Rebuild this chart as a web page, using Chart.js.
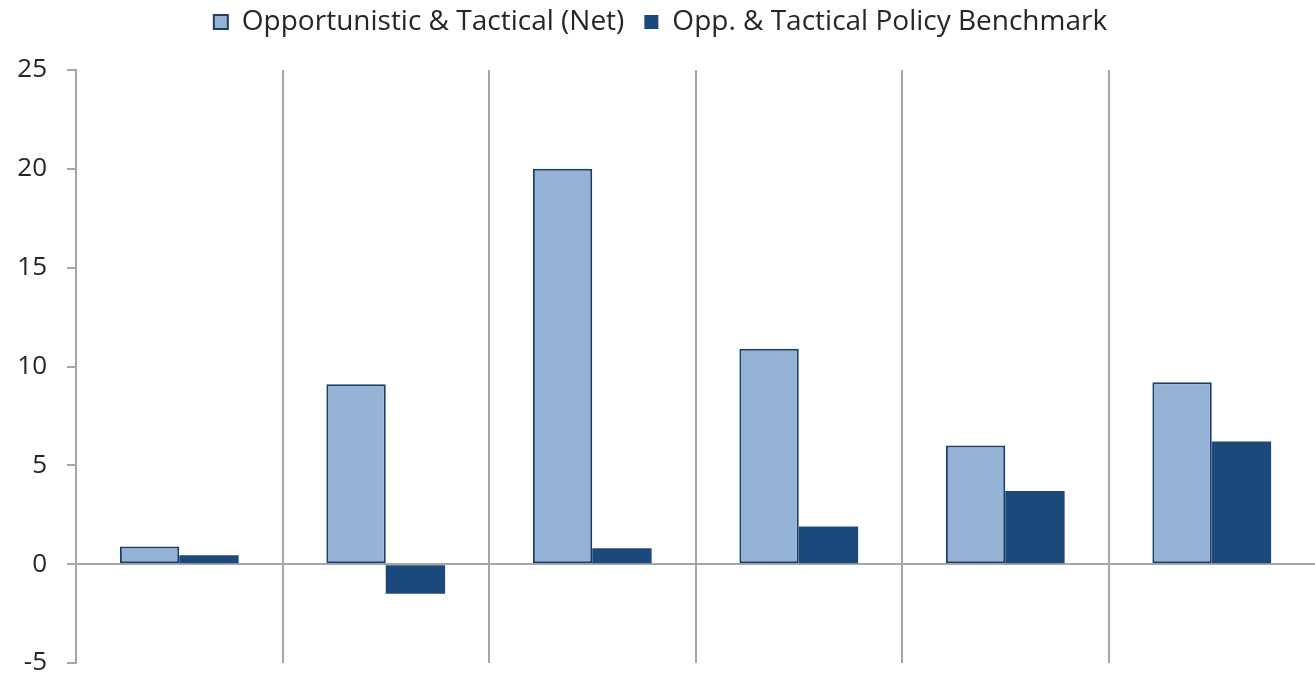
<!DOCTYPE html>
<html>
<head>
<meta charset="utf-8">
<script src="https://cdn.jsdelivr.net/npm/chart.js@4.4.1/dist/chart.umd.min.js"></script>
<style>
  html, body { margin: 0; padding: 0; background: #fff; }
  #wrap { width: 1315px; height: 679px; }
</style>
</head>
<body>
<div id="wrap"><canvas id="chart"></canvas></div>
<script>
// Six periods, no axis labels shown
const categories = ["", "", "", "", "", ""];
const netReturns = [0.9, 9.1, 20.0, 10.9, 6.0, 9.2];
const benchmarkReturns = [0.45, -1.5, 0.8, 1.9, 3.7, 6.2];
const yTicks = [-5, 0, 5, 10, 15, 20, 25];

const gridGray = "#a6a6a6";
const clear = "rgba(0,0,0,0)";

// fixed space reserved for the legend row above the plot
const legendSpace = {
  id: "legendSpace",
  beforeInit(chart) {
    const fit = chart.legend.fit;
    chart.legend.fit = function () {
      fit.call(this);
      this.height = 82;
    };
  }
};

const ctx = document.getElementById("chart").getContext("2d");
new Chart(ctx, {
  type: "bar",
  data: {
    labels: categories,
    datasets: [
      {
        label: "Opportunistic & Tactical (Net)",
        data: netReturns,
        backgroundColor: "#95b3d7",
        borderColor: "#1c3d66",
        borderWidth: 2,
        borderSkipped: false
      },
      {
        label: "Opp. & Tactical Policy Benchmark",
        data: benchmarkReturns,
        backgroundColor: "#1b497c",
        borderColor: "#1b497c",
        borderWidth: 0
      }
    ]
  },
  plugins: [legendSpace],
  options: {
    responsive: true,
    maintainAspectRatio: false,
    animation: false,
    layout: { padding: { top: -12, right: 0, bottom: 16, left: 6 } },
    datasets: {
      bar: { barPercentage: 1, categoryPercentage: 0.575 }
    },
    plugins: {
      legend: {
        position: "top",
        labels: {
          boxWidth: 14,
          boxHeight: 14,
          padding: 20,
          color: "#262626",
          font: { family: "Open Sans", size: 28 }
        }
      },
      tooltip: { enabled: false }
    },
    scales: {
      x: {
        afterFit: (axis) => { axis.height = 0; },
        grid: {
          offset: true,
          color: (c) => (c.type === "tick" && c.index > 0) ? gridGray : clear,
          lineWidth: 2,
          drawTicks: false
        },
        border: { display: false },
        ticks: { display: false }
      },
      y: {
        min: -5,
        max: 25,
        afterBuildTicks: (axis) => { axis.ticks = yTicks.map(v => ({ value: v })); },
        afterFit: (axis) => {
          axis.width = 70;
          axis.paddingTop = 0;
          axis.paddingBottom = 0;
        },
        grid: {
          color: (c) => (c.tick && c.tick.value === 0) ? gridGray : clear,
          tickColor: gridGray,
          lineWidth: 2,
          tickLength: 9
        },
        border: { display: true, color: gridGray, width: 2 },
        ticks: {
          color: "#262626",
          padding: 20,
          font: { family: "Open Sans", size: 26 }
        }
      }
    }
  }
});
</script>
</body>
</html>
